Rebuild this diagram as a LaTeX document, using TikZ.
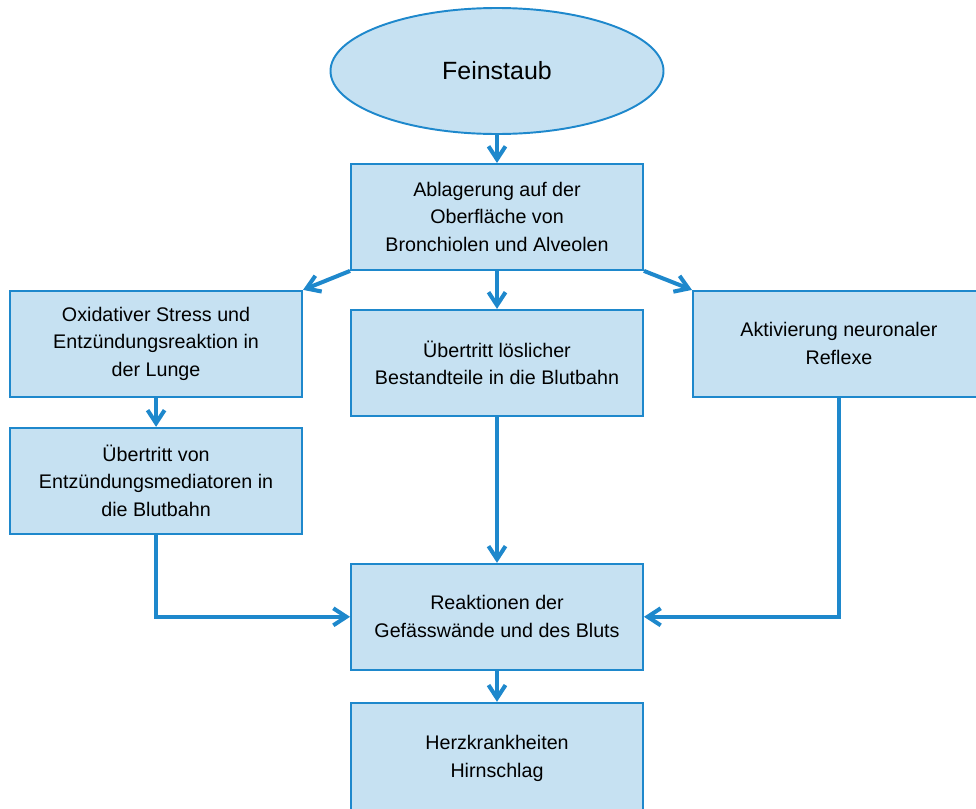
\documentclass[tikz,border=0pt]{standalone}
\usepackage{fontspec}
\setmainfont{Liberation Sans}
\usepackage{tikz}
\usepackage{xcolor}
\usetikzlibrary{shapes.geometric, arrows.meta, positioning}
\definecolor{cFill}{RGB}{198,225,242}
\definecolor{cLine}{RGB}{30,136,204}
\tikzset{
    startstop/.style={ellipse, minimum width=6.66cm, minimum height=2.52cm, text centered, draw=cLine, line width=1.1pt, fill=cFill, font=\fontsize{14.2}{17}\selectfont},
    process/.style  ={rectangle, minimum width=5.84cm, minimum height=2.12cm, text centered, align=center, draw=cLine, line width=1.1pt, fill=cFill, font=\fontsize{11.2}{15.9}\selectfont},
    flowarrow/.style={-{Straight Barb[length=2.6mm, width=3.4mm]}, line width=2.3pt, draw=cLine},
}
\begin{document}
\begin{tikzpicture}
                \useasboundingbox (0,0) rectangle (19.52,-16.16);
                \node[startstop] (fein) at (9.94,-1.42) {Feinstaub};
                \node[process, below=0.56cm of fein] (abl) {Ablagerung auf der\\Oberfläche von\\Bronchiolen und Alveolen};
                \node[process, below left=0.38cm and 0.94cm of abl] (oxi) {Oxidativer Stress und\\Entzündungsreaktion in\\der Lunge};
                \node[process, below=0.76cm of abl] (ueb) {Übertritt löslicher\\Bestandteile in die Blutbahn};
                \node[process, below right=0.38cm and 0.96cm of abl] (akt) {Aktivierung neuronaler\\Reflexe};
                \node[process, below=0.58cm of oxi] (med) {Übertritt von\\Entzündungsmediatoren in\\die Blutbahn};
                \node[process, below=2.92cm of ueb] (rea) {Reaktionen der\\Gefässwände und des Bluts};
                \node[process, below=0.62cm of rea, minimum height=2.22cm] (herz) {Herzkrankheiten\\Hirnschlag};
                \draw[flowarrow](fein)--(abl);
                \draw[flowarrow](abl.south west)--(oxi.north east);
                \draw[flowarrow](abl)--(ueb);
                \draw[flowarrow](abl.south east)--(akt.north west);
                \draw[flowarrow](oxi)--(med);
                \draw[flowarrow](med.south)|-(rea.west);
                \draw[flowarrow](ueb)--(rea);
                \draw[flowarrow](akt.south)|-(rea.east);
                \draw[flowarrow](rea)--(herz);
            \end{tikzpicture}
\end{document}
